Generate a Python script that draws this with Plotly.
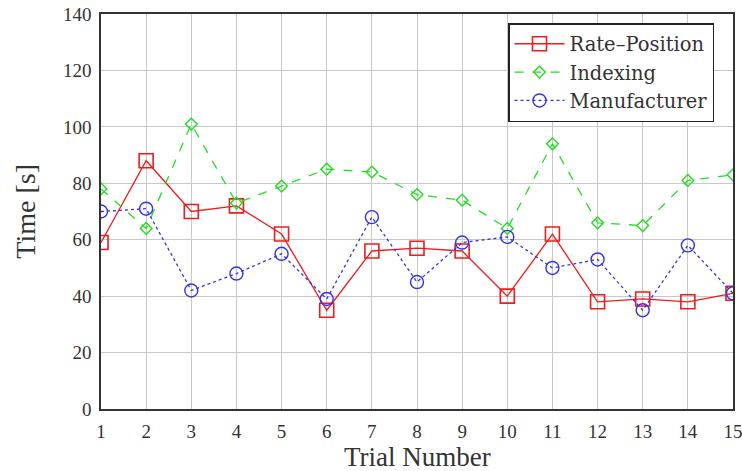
import plotly.graph_objects as go

trials = list(range(1, 16))
rate_position = [59, 88, 70, 72, 62, 35, 56, 57, 56, 40, 62, 38, 39, 38, 41]
indexing = [78, 64, 101, 73, 79, 85, 84, 76, 74, 64, 94, 66, 65, 81, 83]
manufacturer = [70, 71, 42, 48, 55, 39, 68, 45, 59, 61, 50, 53, 35, 58, 41]
y_ticks = [0, 20, 40, 60, 80, 100, 120, 140]

FONT = "Liberation Serif"
TXT = "#333333"

fig = go.Figure()
fig.add_trace(go.Scatter(
    x=trials, y=rate_position, name="Rate\u2013Position", mode="lines+markers",
    line=dict(color="#ee1c1c", width=1.3, dash="solid"),
    marker=dict(symbol="square-open", size=14, color="#ee1c1c", line=dict(width=1.6)),
))
fig.add_trace(go.Scatter(
    x=trials, y=indexing, name="Indexing", mode="lines+markers",
    line=dict(color="#22dd22", width=1.3, dash="dash"),
    marker=dict(symbol="diamond-open", size=9, color="#22dd22", line=dict(width=1.4)),
))
fig.add_trace(go.Scatter(
    x=trials, y=manufacturer, name="Manufacturer", mode="lines+markers",
    line=dict(color="#3333ee", width=1.3, dash="dot"),
    marker=dict(symbol="circle-open", size=13, color="#3333ee", line=dict(width=1.4)),
))

fig.update_layout(
    width=742, height=471,
    margin=dict(l=101, r=9, t=14, b=62, autoexpand=False),
    paper_bgcolor="white", plot_bgcolor="white",
    font=dict(family=FONT, color=TXT, size=19),
    showlegend=True,
    legend=dict(
        x=0.644, y=0.977, xanchor="left", yanchor="top",
        bordercolor="#222222", borderwidth=1.5, bgcolor="white",
        font=dict(family="DejaVu Serif", size=19.5, color=TXT),
        tracegroupgap=0, itemwidth=50,
    ),
    xaxis=dict(
        range=[1, 15], tickvals=trials, ticktext=[str(t) for t in trials],
        showgrid=True, gridcolor="#c8c8c8", gridwidth=1.2,
        showline=True, linecolor="#333333", linewidth=1.5, mirror=True,
        ticks="", zeroline=False, automargin=False,
        tickfont=dict(size=19), ticklabelstandoff=4, ticklabeloverflow="allow",
    ),
    yaxis=dict(
        range=[0, 140], tickvals=y_ticks,
        showgrid=True, gridcolor="#c8c8c8", gridwidth=1.2,
        showline=True, linecolor="#333333", linewidth=1.5, mirror=True,
        ticks="", zeroline=False, automargin=False,
        tickfont=dict(size=19), ticklabelstandoff=4, ticklabeloverflow="allow",
    ),
    annotations=[
        dict(text="Trial Number", x=0.5, y=-0.122, xref="paper", yref="paper",
             xanchor="center", yanchor="middle", showarrow=False,
             font=dict(family=FONT, size=27, color=TXT)),
        dict(text="Time [s]", x=-0.12, y=0.5, xref="paper", yref="paper",
             xanchor="center", yanchor="middle", showarrow=False, textangle=-90,
             font=dict(family=FONT, size=28, color=TXT)),
    ],
)

# remove the default page margin so the 742x471 figure fills the window exactly
fig.write_html(
    "out.html",
    config={"displayModeBar": False},
    post_script="document.body.style.margin='0';document.documentElement.style.overflow='hidden';",
)
